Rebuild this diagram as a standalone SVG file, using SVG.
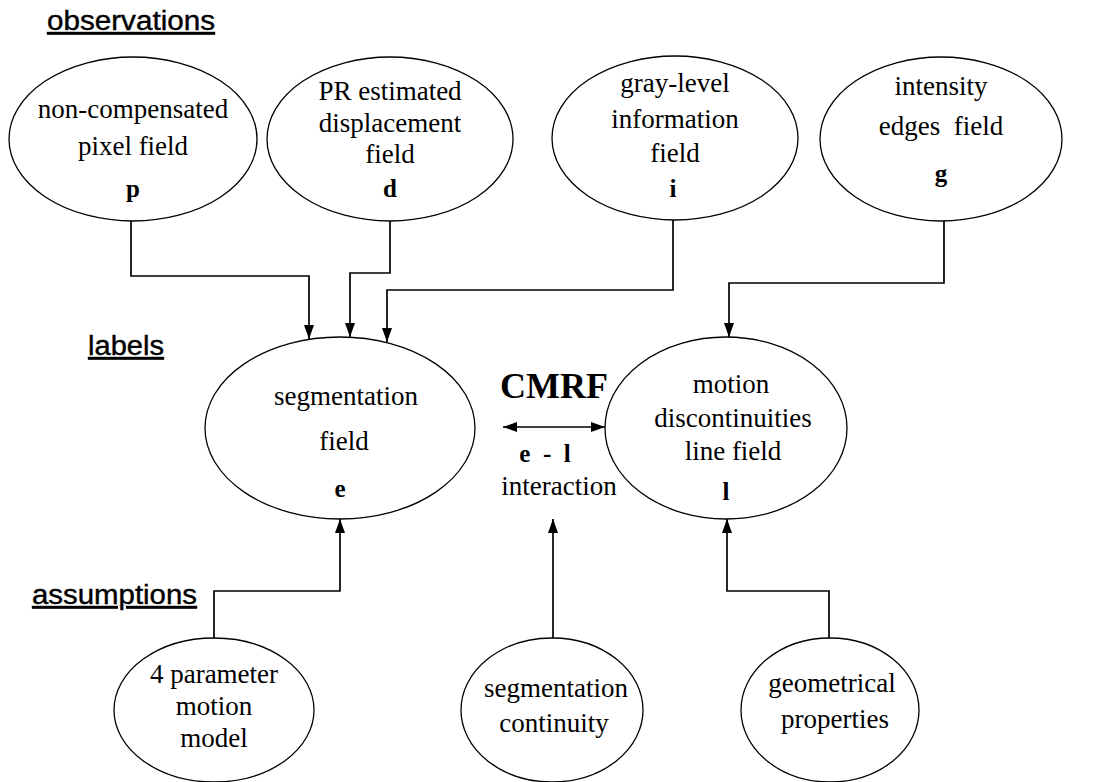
<svg xmlns="http://www.w3.org/2000/svg" width="1096" height="782" viewBox="0 0 1096 782">
<defs>
<style>
.node ellipse{fill:#fff;stroke:#000;stroke-width:1.3}
.t{font-family:"Liberation Serif","Times New Roman",serif;font-size:27px;fill:#000;text-anchor:middle}
.b{font-family:"Liberation Serif","Times New Roman",serif;font-size:25px;font-weight:bold;fill:#000;text-anchor:middle}
.h{font-family:"Liberation Sans",Arial,sans-serif;font-size:27px;fill:#000;text-decoration:underline;stroke:#000;stroke-width:0.4}
.c{fill:none;stroke:#000;stroke-width:1.7}
</style>
<marker id="ah" viewBox="0 0 14 10" refX="14" refY="5" markerWidth="14" markerHeight="10" markerUnits="userSpaceOnUse" orient="auto-start-reverse">
<path d="M0,0 L14,5 L0,10 z" fill="#000"/>
</marker>
</defs>
<rect width="1096" height="782" fill="#fff"/>

<text class="h" x="47" y="30" textLength="168" lengthAdjust="spacingAndGlyphs">observations</text>
<text class="h" x="88" y="355" textLength="76" lengthAdjust="spacingAndGlyphs">labels</text>
<text class="h" x="32" y="604" textLength="165" lengthAdjust="spacingAndGlyphs">assumptions</text>

<g id="connectors">
<path class="c" d="M131,220 V276 H309 V339" marker-end="url(#ah)"/>
<path class="c" d="M390,220 V273 H350 V337" marker-end="url(#ah)"/>
<path class="c" d="M673,220 V290 H387 V342" marker-end="url(#ah)"/>
<path class="c" d="M944,220 V283 H729 V337" marker-end="url(#ah)"/>
<path class="c" d="M214,638 V591 H340 V519" marker-end="url(#ah)"/>
<path class="c" d="M553,638 V519" marker-end="url(#ah)"/>
<path class="c" d="M829,638 V591 H727 V519" marker-end="url(#ah)"/>
<path class="c" d="M503,427 H605" marker-start="url(#ah)" marker-end="url(#ah)"/>
</g>

<g id="n-p" class="node">
<ellipse cx="133" cy="139" rx="124" ry="82"/>
<text class="t" x="133" y="118">non-compensated</text>
<text class="t" x="133" y="155">pixel field</text>
<text class="b" x="133" y="197">p</text>
</g>
<g id="n-d" class="node">
<ellipse cx="390" cy="139" rx="123" ry="82"/>
<text class="t" x="390" y="100">PR estimated</text>
<text class="t" x="390" y="132">displacement</text>
<text class="t" x="390" y="163">field</text>
<text class="b" x="390" y="197">d</text>
</g>
<g id="n-i" class="node">
<ellipse cx="675" cy="138" rx="123" ry="82"/>
<text class="t" x="675" y="92">gray-level</text>
<text class="t" x="675" y="128">information</text>
<text class="t" x="675" y="162">field</text>
<text class="b" x="673" y="197">i</text>
</g>
<g id="n-g" class="node">
<ellipse cx="941" cy="139" rx="121" ry="82"/>
<text class="t" x="941" y="95">intensity</text>
<text class="t" x="941" y="135" xml:space="preserve">edges  field</text>
<text class="b" x="941" y="182">g</text>
</g>

<g id="n-e" class="node">
<ellipse cx="340" cy="428" rx="135" ry="91"/>
<text class="t" x="346" y="405">segmentation</text>
<text class="t" x="344" y="450">field</text>
<text class="b" x="340" y="497">e</text>
</g>
<g id="n-l" class="node">
<ellipse cx="726" cy="428" rx="121" ry="91"/>
<text class="t" x="731" y="393">motion</text>
<text class="t" x="733" y="427">discontinuities</text>
<text class="t" x="733" y="460">line field</text>
<text class="b" x="726" y="500">l</text>
</g>

<g id="cmrf">
<text class="b" x="554" y="398" style="font-size:36px">CMRF</text>
<text class="b" x="545" y="462" xml:space="preserve">e  -  l</text>
<text class="t" x="559" y="495">interaction</text>
</g>

<g id="n-a1" class="node">
<ellipse cx="214" cy="710" rx="100" ry="72"/>
<text class="t" x="214" y="683">4 parameter</text>
<text class="t" x="214" y="715">motion</text>
<text class="t" x="214" y="747">model</text>
</g>
<g id="n-a2" class="node">
<ellipse cx="552" cy="710" rx="91" ry="72"/>
<text class="t" x="556" y="697">segmentation</text>
<text class="t" x="554" y="732">continuity</text>
</g>
<g id="n-a3" class="node">
<ellipse cx="830" cy="710" rx="89" ry="72"/>
<text class="t" x="832" y="692">geometrical</text>
<text class="t" x="835" y="728">properties</text>
</g>
</svg>
